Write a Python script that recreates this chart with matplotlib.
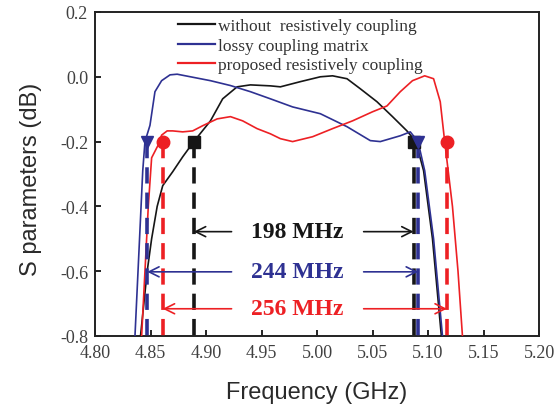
import matplotlib
matplotlib.use("Agg")
import matplotlib.pyplot as plt
import numpy as np

# Frequency (GHz) and S-parameter (dB) samples for each design
f_without = [4.838, 4.841, 4.847, 4.851, 4.856, 4.861, 4.870, 4.879, 4.889, 4.904,
             4.915, 4.928, 4.940, 4.958, 4.967, 4.985, 5.003, 5.014, 5.027, 5.039,
             5.054, 5.068, 5.081, 5.089, 5.096, 5.104, 5.112, 5.114]
s_without = [-0.90, -0.80, -0.60, -0.50, -0.40, -0.336, -0.293, -0.247, -0.200, -0.136,
             -0.068, -0.031, -0.025, -0.028, -0.031, -0.015, 0.000, 0.003, -0.006, -0.037,
             -0.077, -0.123, -0.167, -0.200, -0.290, -0.500, -0.800, -0.90]

f_lossy = [4.834, 4.836, 4.843, 4.845, 4.8495, 4.854, 4.860, 4.8676, 4.874, 4.886,
           4.904, 4.922, 4.940, 4.958, 4.978, 5.003, 5.027, 5.048, 5.057, 5.075,
           5.084, 5.091, 5.097, 5.105, 5.113, 5.115]
s_lossy = [-0.90, -0.80, -0.29, -0.20, -0.15, -0.046, -0.012, 0.006, 0.008, 0.000,
           -0.012, -0.027, -0.046, -0.068, -0.093, -0.114, -0.154, -0.197, -0.200, -0.182,
           -0.170, -0.200, -0.290, -0.500, -0.800, -0.90]

f_proposed = [4.840, 4.842, 4.845, 4.848, 4.851, 4.857, 4.860, 4.865, 4.870, 4.879,
              4.888, 4.897, 4.910, 4.922, 4.933, 4.946, 4.958, 4.967, 4.978, 4.996,
              5.014, 5.032, 5.050, 5.063, 5.075, 5.086, 5.097, 5.105, 5.111, 5.115,
              5.122, 5.127, 5.131, 5.133]
s_proposed = [-0.90, -0.80, -0.60, -0.40, -0.25, -0.21, -0.18, -0.167, -0.167, -0.170,
              -0.167, -0.151, -0.130, -0.123, -0.136, -0.160, -0.176, -0.191, -0.200, -0.185,
              -0.160, -0.136, -0.108, -0.090, -0.046, -0.012, 0.003, -0.006, -0.077, -0.200,
              -0.400, -0.600, -0.800, -0.90]

# Band edges at the -0.2 dB level (GHz)
edges_without = [4.889, 5.087]
edges_lossy = [4.847, 5.091]
edges_proposed = [4.861, 5.117]
edge_level = -0.2

labels = ["without  resistively coupling", "lossy coupling matrix",
          "proposed resistively coupling"]
bw_labels = ["198 MHz", "244 MHz", "256 MHz"]
bw_levels = [-0.478, -0.602, -0.716]

x_ticks = [4.80, 4.85, 4.90, 4.95, 5.00, 5.05, 5.10, 5.15, 5.20]
y_ticks = [-0.8, -0.6, -0.4, -0.2, 0.0, 0.2]

c_black = "#161616"
c_blue = "#2e3192"
c_red = "#ed2024"

fig = plt.figure(figsize=(5.54, 4.06), dpi=100)
ax = fig.add_axes([0.1715, 0.170, 0.8015, 0.798])

serif = ["Liberation Serif", "DejaVu Serif"]
sans = ["Liberation Sans", "DejaVu Sans"]

lw = 1.2
ax.plot(f_without, s_without, color=c_black, lw=lw, label=labels[0], zorder=3)
ax.plot(f_lossy, s_lossy, color=c_blue, lw=lw, label=labels[1], zorder=3)
ax.plot(f_proposed, s_proposed, color=c_red, lw=lw, label=labels[2], zorder=3)

# Vertical dashed band-edge markers
ymin = -0.8
for edges, col, mk in [(edges_without, c_black, "s"),
                       (edges_lossy, c_blue, "v"),
                       (edges_proposed, c_red, "o")]:
    for e in edges:
        ax.plot([e, e], [edge_level, ymin], color=col, lw=2.6,
                dashes=(4.5, 2.5), zorder=4)
        ax.plot([e], [edge_level], marker=mk, color=col, markersize=9,
                linestyle="none", zorder=5, clip_on=False)

# Bandwidth arrows and labels
text_x = 4.982
for edges, col, txt, lvl in zip([edges_without, edges_lossy, edges_proposed],
                                [c_black, c_blue, c_red], bw_labels, bw_levels):
    ax.annotate("", xy=(edges[0], lvl), xytext=(4.923, lvl),
                arrowprops=dict(arrowstyle="->", color=col, lw=1.2,
                                mutation_scale=18, shrinkA=0, shrinkB=0), zorder=6)
    ax.annotate("", xy=(edges[1], lvl), xytext=(5.042, lvl),
                arrowprops=dict(arrowstyle="->", color=col, lw=1.2,
                                mutation_scale=18, shrinkA=0, shrinkB=0), zorder=6)
    ax.text(text_x, lvl, txt, color=col, fontsize=17, fontweight="bold",
            family=serif, ha="center", va="center", zorder=7)

ax.set_xlim(4.80, 5.20)
ax.set_ylim(-0.8, 0.2)
ax.set_xticks(x_ticks)
ax.set_yticks(y_ticks)
ax.set_xticklabels([f"{v:.2f}" for v in x_ticks])
ax.set_yticklabels([f"{v:.1f}" for v in y_ticks])
ax.tick_params(direction="in", length=4, width=1.2, labelsize=13,
               labelcolor="#404040")
ax.tick_params(axis="x", pad=6)
ax.tick_params(axis="y", pad=5)
for lab in ax.get_xticklabels() + ax.get_yticklabels():
    lab.set_family(serif)
for sp in ax.spines.values():
    sp.set_linewidth(1.4)
    sp.set_color("#222222")

ax.set_xlabel("Frequency (GHz)", fontsize=17, family=sans, color="#2a2a2a")
ax.set_ylabel("S parameters (dB)", fontsize=17, family=sans, color="#2a2a2a")
ax.xaxis.set_label_coords(0.5, -0.14)
ax.yaxis.set_label_coords(-0.12, 0.485)

leg = ax.legend(loc="upper left", bbox_to_anchor=(0.187, 0.982), frameon=False,
                prop={"family": serif, "size": 12.5}, handlelength=2.1,
                handletextpad=0.2, labelspacing=0.2, borderpad=0, borderaxespad=0)
for t in leg.get_texts():
    t.set_color("#333333")
for ln in leg.get_lines():
    ln.set_linewidth(1.6)

fig.savefig("out.png", dpi=100)
